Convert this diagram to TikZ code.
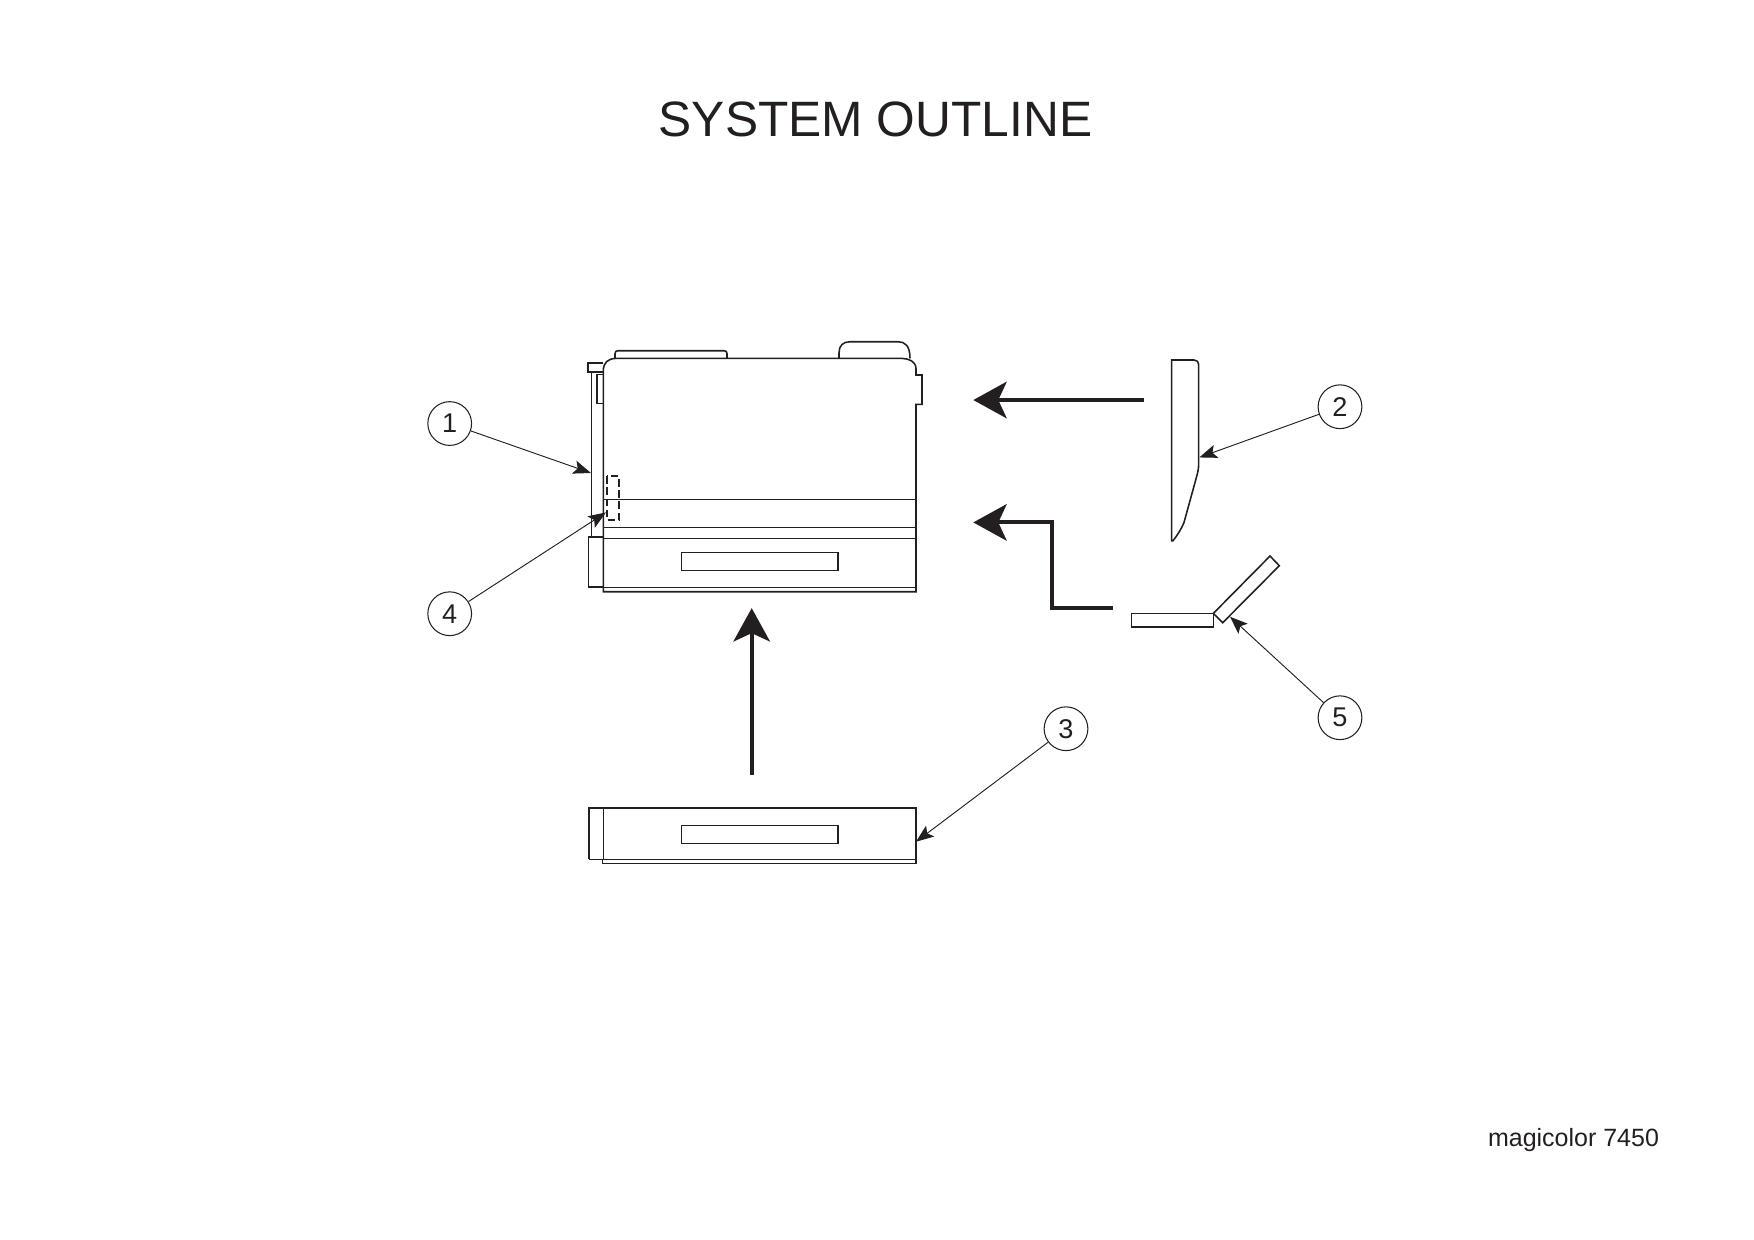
\documentclass[tikz,border=0pt]{standalone}
\usepackage{fontspec}
\setmainfont{Liberation Sans}
\usepackage{xcolor}
\usetikzlibrary{arrows.meta}
\definecolor{inkblack}{HTML}{231F20}

\begin{document}
\begin{tikzpicture}[
  x=0.48pt,
  y=-0.48pt,
  line cap=butt,
  line join=miter,
  every node/.style={text=inkblack},
  outline/.style={draw=inkblack, line width=0.75pt},
  thinline/.style={draw=inkblack, line width=0.5pt},
  callout/.style={circle, draw=inkblack, line width=0.5pt, minimum size=21pt, inner sep=0pt, font=\fontsize{13}{15}\selectfont},
  leader/.style={draw=inkblack, line width=0.45pt, -{Stealth[length=8.5pt,width=6.5pt,inset=1.8pt]}},
  flow/.style={draw=inkblack, line width=1.9pt, -{Stealth[length=16pt,width=17.5pt,inset=4pt]}}
]
  \useasboundingbox (0,0) rectangle (1754,1240);

  % Title and model name
  \node[font=\fontsize{23.85}{28}\selectfont] (title) at (875.5,119) {SYSTEM OUTLINE};
  \node[font=\fontsize{12}{14}\selectfont] (model) at (1573.5,1140) {magicolor 7450};

  \begin{scope}[yshift=-0.35pt]
  % Printer: main body
  \draw[outline] (603.3,591) -- (603.3,370) .. controls (603.3,362) and (608,357.7) .. (616,357.7)
    -- (902,357.7) .. controls (909,357.7) and (916,361) .. (916,368) -- (916,374.3) -- (922,374.3)
    -- (922,403.7) -- (916,403.7) -- (916,591) -- cycle;
  \draw[outline] (615,357.7) -- (615,353) .. controls (615,351) and (616,350) .. (618,350)
    -- (724,350) .. controls (726,350) and (727,351) .. (727,353) -- (727,357.7);
  \draw[outline] (839,357.7) -- (839,352) .. controls (839,345) and (843,341) .. (850,341)
    -- (898,341) .. controls (905,341) and (910,345) .. (910,357.7);

  % Printer: rear panel
  \draw[outline] (603.3,362) -- (588,362) -- (588,371) -- (603.3,371);
  \draw[outline] (591.7,371) -- (591.7,536);
  \draw[thinline] (603.3,403) -- (597,403) -- (597,374) -- (603.3,374);
  \draw[outline] (603.3,536) -- (588.3,536) -- (588.3,586.5) -- (603.3,586.5);

  % Printer: horizontal seams and tray slot
  \draw[thinline] (603.3,498.7) -- (916,498.7);
  \draw[thinline] (603.3,526.3) -- (916,526.3);
  \draw[thinline] (603.3,537.3) -- (916,537.3);
  \draw[thinline] (603.3,586.3) -- (916,586.3);
  \draw[thinline] (681.7,552) rectangle (838,570);
  \draw[draw=inkblack, line width=0.95pt, dash pattern=on 3.5pt off 1.8pt] (606.7,475.7) rectangle (618.7,519);

  % Part 2: side unit
  \draw[outline] (1171.7,540) -- (1171.7,359.3) -- (1194,359.3) .. controls (1197,359.3) and (1198.7,361) .. (1198.7,364)
    -- (1198.7,463) .. controls (1198.7,470) and (1197,474) .. (1195.5,480) -- (1184,521.7)
    .. controls (1181,529) and (1177,535) .. (1173,540) -- cycle;

  % Part 5: tray with open cover
  \draw[outline] (1131.7,612.7) rectangle (1213.3,626);
  \draw[outline] (1213.3,612.7) -- (1270,555.3) -- (1279.3,565) -- (1222.7,622) -- cycle;

  % Part 3: lower cassette
  \draw[outline] (589,858.3) -- (589,807.3) -- (916,807.3) -- (916,862.7) -- (602.7,862.7) -- (602.7,858.3);
  \draw[thinline] (589,858.3) -- (916,858.3);
  \draw[thinline] (603.3,807.3) -- (603.3,858.3);
  \draw[thinline] (681.7,824.3) rectangle (838,842.3);

  % Assembly arrows
  \coordinate (flowa) at (1144.3,399.3);
  \coordinate (flowb) at (973.3,399.3);
  \coordinate (flowc) at (1112.7,607.7);
  \coordinate (flowd) at (973.3,521.7);
  \coordinate (flowe) at (751.7,774);
  \coordinate (flowf) at (751.7,607.4);
  \draw[flow] (flowa) -- (flowb);
  \draw[flow] (flowc) -- (1051.7,607.7) -- (1051.7,521.7) -- (flowd);
  \draw[flow] (flowe) -- (flowf);

  % Callout numbers
  \node[callout] (num1) at (449.7,422.8) {1};
  \node[callout] (num2) at (1340,406) {2};
  \node[callout] (num3) at (1066,728) {3};
  \node[callout] (num4) at (449.7,613) {4};
  \node[callout] (num5) at (1340,717) {5};

  % Leader tips
  \coordinate (tip1) at (591,472.3);
  \coordinate (tip2) at (1199.3,456.7);
  \coordinate (tip3) at (916,841);
  \coordinate (tip4) at (606,511.7);
  \coordinate (tip5) at (1230,616);
  \foreach \pt in {1,...,5}{
    \draw[leader] (num\pt) -- (tip\pt);
  }
  \end{scope}
\end{tikzpicture}
\end{document}
